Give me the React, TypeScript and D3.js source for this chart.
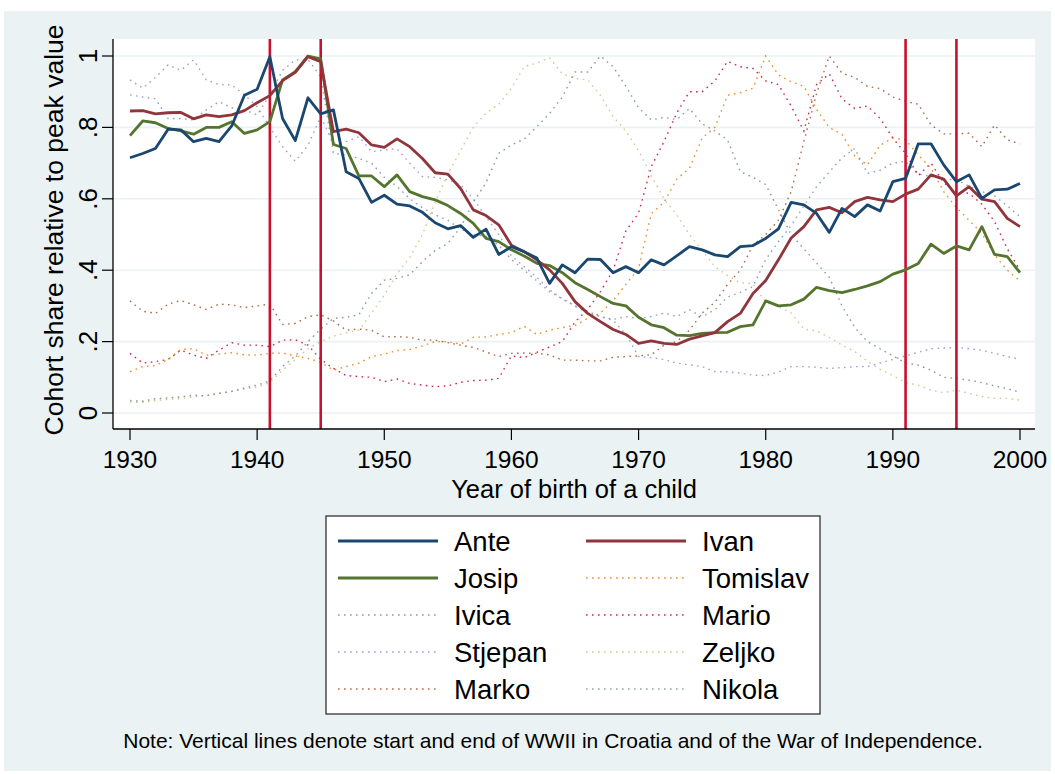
import React from "react";
import * as d3 from "d3";

const years = d3.range(1930, 2001);
const xTicks = [1930, 1940, 1950, 1960, 1970, 1980, 1990, 2000];
const yTicks = [0, 0.2, 0.4, 0.6, 0.8, 1];
const yTickLabels = ["0", ".2", ".4", ".6", ".8", "1"];
const warYears = [1941, 1945, 1991, 1995];

const ante = [0.715,0.727,0.741,0.795,0.793,0.76,0.769,0.76,0.804,0.89,0.907,0.998,0.825,0.763,0.883,0.838,0.849,0.676,0.657,0.59,0.61,0.585,0.58,0.562,0.533,0.516,0.525,0.492,0.515,0.444,0.466,0.452,0.434,0.363,0.415,0.393,0.431,0.43,0.393,0.41,0.393,0.429,0.415,0.44,0.466,0.457,0.443,0.438,0.466,0.469,0.489,0.516,0.59,0.583,0.559,0.506,0.573,0.55,0.583,0.566,0.648,0.657,0.754,0.754,0.695,0.648,0.667,0.601,0.625,0.627,0.643];
const ivan = [0.846,0.847,0.838,0.841,0.842,0.824,0.835,0.83,0.835,0.847,0.869,0.889,0.931,0.954,0.998,0.984,0.788,0.795,0.785,0.751,0.744,0.768,0.746,0.713,0.673,0.669,0.629,0.569,0.553,0.527,0.47,0.452,0.429,0.401,0.363,0.312,0.279,0.256,0.234,0.22,0.195,0.202,0.195,0.192,0.207,0.216,0.225,0.256,0.279,0.335,0.371,0.429,0.49,0.522,0.569,0.576,0.561,0.592,0.604,0.597,0.592,0.613,0.627,0.667,0.655,0.608,0.634,0.599,0.592,0.545,0.522];
const josip = [0.777,0.818,0.813,0.797,0.79,0.781,0.8,0.8,0.816,0.783,0.793,0.816,0.933,0.956,1.0,0.992,0.752,0.741,0.664,0.664,0.634,0.667,0.62,0.606,0.597,0.581,0.559,0.531,0.489,0.48,0.457,0.44,0.419,0.413,0.393,0.365,0.346,0.326,0.307,0.3,0.268,0.247,0.239,0.218,0.217,0.223,0.225,0.226,0.242,0.247,0.314,0.3,0.303,0.319,0.352,0.343,0.337,0.346,0.356,0.368,0.389,0.401,0.419,0.473,0.447,0.468,0.457,0.522,0.444,0.438,0.393];
const tomislav = [0.116,0.13,0.133,0.15,0.178,0.18,0.162,0.165,0.169,0.163,0.162,0.167,0.168,0.16,0.153,0.142,0.12,0.13,0.14,0.158,0.165,0.175,0.178,0.188,0.2,0.2,0.193,0.212,0.213,0.22,0.225,0.243,0.22,0.232,0.239,0.245,0.265,0.28,0.315,0.36,0.405,0.558,0.59,0.655,0.685,0.77,0.8,0.89,0.897,0.91,1.0,0.947,0.928,0.915,0.85,0.8,0.78,0.72,0.695,0.75,0.77,0.765,0.723,0.685,0.62,0.575,0.54,0.503,0.443,0.4,0.37];
const ivica = [0.035,0.033,0.04,0.042,0.045,0.05,0.048,0.055,0.06,0.07,0.078,0.09,0.13,0.16,0.2,0.235,0.265,0.268,0.275,0.335,0.372,0.377,0.387,0.424,0.455,0.475,0.52,0.59,0.645,0.727,0.751,0.767,0.802,0.839,0.885,0.955,0.955,1.0,0.97,0.915,0.855,0.821,0.828,0.822,0.853,0.81,0.79,0.765,0.676,0.66,0.64,0.57,0.5,0.46,0.42,0.38,0.3,0.24,0.2,0.18,0.16,0.14,0.134,0.12,0.1,0.097,0.092,0.085,0.076,0.068,0.058];
const mario = [0.167,0.14,0.144,0.15,0.176,0.162,0.153,0.176,0.197,0.19,0.19,0.186,0.204,0.205,0.19,0.15,0.125,0.105,0.102,0.1,0.088,0.095,0.083,0.078,0.074,0.076,0.086,0.091,0.092,0.097,0.16,0.155,0.17,0.185,0.2,0.255,0.29,0.34,0.4,0.51,0.56,0.69,0.76,0.84,0.9,0.9,0.93,0.985,0.97,0.965,0.93,0.92,0.86,0.79,0.92,0.95,0.88,0.853,0.86,0.825,0.77,0.727,0.665,0.7,0.645,0.62,0.615,0.585,0.536,0.46,0.4];
const stjepan = [0.933,0.91,0.94,0.975,0.96,0.989,0.933,0.92,0.919,0.891,0.858,0.8,0.746,0.705,0.75,0.83,0.755,0.76,0.774,0.732,0.737,0.74,0.7,0.662,0.66,0.653,0.64,0.6,0.55,0.5,0.44,0.41,0.38,0.345,0.32,0.3,0.28,0.27,0.26,0.22,0.158,0.155,0.15,0.14,0.135,0.13,0.116,0.115,0.112,0.106,0.105,0.115,0.13,0.13,0.128,0.125,0.127,0.13,0.13,0.14,0.15,0.16,0.17,0.18,0.182,0.184,0.18,0.176,0.167,0.158,0.15];
const zeljko = [0.03,0.03,0.035,0.038,0.04,0.045,0.05,0.055,0.062,0.068,0.072,0.085,0.12,0.15,0.18,0.2,0.215,0.225,0.232,0.28,0.33,0.39,0.435,0.5,0.59,0.67,0.735,0.8,0.84,0.865,0.91,0.97,0.98,0.995,0.95,0.937,0.933,0.89,0.83,0.79,0.735,0.665,0.6,0.555,0.5,0.455,0.41,0.385,0.365,0.362,0.31,0.298,0.28,0.235,0.23,0.212,0.19,0.172,0.145,0.122,0.105,0.085,0.078,0.064,0.057,0.064,0.055,0.046,0.041,0.041,0.036];
const marko = [0.314,0.285,0.279,0.305,0.315,0.303,0.29,0.305,0.303,0.295,0.3,0.305,0.248,0.251,0.27,0.275,0.258,0.232,0.235,0.232,0.213,0.214,0.212,0.204,0.204,0.197,0.19,0.184,0.171,0.158,0.167,0.168,0.167,0.163,0.148,0.148,0.146,0.146,0.156,0.158,0.16,0.163,0.19,0.2,0.232,0.28,0.31,0.36,0.4,0.47,0.5,0.54,0.62,0.76,0.895,1.0,0.952,0.94,0.915,0.909,0.885,0.873,0.865,0.807,0.782,0.782,0.784,0.746,0.807,0.765,0.754];
const nikola = [0.891,0.885,0.88,0.825,0.825,0.821,0.849,0.872,0.855,0.849,0.835,0.891,0.96,0.989,0.99,0.942,0.727,0.723,0.713,0.7,0.66,0.635,0.6,0.575,0.555,0.54,0.515,0.5,0.495,0.47,0.43,0.4,0.37,0.34,0.32,0.3,0.285,0.27,0.262,0.27,0.265,0.27,0.28,0.27,0.289,0.27,0.289,0.325,0.338,0.354,0.43,0.48,0.525,0.58,0.634,0.675,0.715,0.741,0.671,0.68,0.7,0.705,0.67,0.662,0.655,0.653,0.635,0.62,0.608,0.58,0.55];

const seriesNames = ["Ante","Ivan","Josip","Tomislav","Ivica","Mario","Stjepan","Zeljko","Marko","Nikola"];
const seriesValues = [ante, ivan, josip, tomislav, ivica, mario, stjepan, zeljko, marko, nikola];
const seriesColors = ["#1A476F","#90353B","#55752F","#E37E00","#6E8E84","#C10534","#938DD2","#CAC27E","#A0522D","#7B92A8"];
const seriesSolid = [true, true, true, false, false, false, false, false, false, false];

const W = 1055, H = 774;
const plot = { left: 113, right: 1035, top: 39, bottom: 429 };
const FONT = "'Liberation Sans', Arial, Helvetica, sans-serif";

export default function App() {
  const x = d3.scaleLinear().domain([1930, 2000]).range([130, 1020]);
  const y = d3.scaleLinear().domain([0, 1]).range([413, 56]);
  const line = d3.line<number>().x((_, i) => x(years[i])).y((d) => y(d));

  const order = [9, 8, 7, 6, 5, 4, 3, 2, 1, 0];

  return (
    <svg width={W} height={H} style={{ position: "absolute", left: 0, top: 0, background: "#fff" }} fontFamily={FONT}>
      <rect x={4} y={11} width={1047} height={760} fill="#EAF2F3" />
      <rect x={plot.left} y={plot.top} width={plot.right - plot.left} height={plot.bottom - plot.top} fill="#fff" />
      {yTicks.map((t) => (
        <line key={"g" + t} x1={plot.left} x2={plot.right} y1={y(t)} y2={y(t)} stroke="#EAF2F3" strokeWidth={1.6} />
      ))}
      {order.map((i) =>
        seriesSolid[i] ? null : (
          <path key={seriesNames[i]} d={line(seriesValues[i]) || ""} fill="none" stroke={seriesColors[i]}
            strokeWidth={1.4} strokeDasharray="1.6 4.4" opacity={0.85} />
        )
      )}
      {warYears.map((yr) => (
        <line key={"w" + yr} x1={x(yr)} x2={x(yr)} y1={plot.top} y2={plot.bottom} stroke="#C8102E" strokeWidth={2.6} />
      ))}
      {order.map((i) =>
        seriesSolid[i] ? (
          <path key={seriesNames[i]} d={line(seriesValues[i]) || ""} fill="none" stroke={seriesColors[i]}
            strokeWidth={2.8} strokeLinejoin="round" />
        ) : null
      )}
      <line x1={plot.left} x2={plot.left} y1={plot.top} y2={plot.bottom} stroke="#000" strokeWidth={1.3} />
      <line x1={plot.left} x2={plot.right} y1={plot.bottom} y2={plot.bottom} stroke="#000" strokeWidth={1.3} />
      {yTicks.map((t, i) => (
        <g key={"yt" + t}>
          <line x1={102} x2={plot.left} y1={y(t)} y2={y(t)} stroke="#000" strokeWidth={1.2} />
          <text transform={`translate(97,${y(t)}) rotate(-90)`} textAnchor="middle" fontSize={26} fill="#000">
            {yTickLabels[i]}
          </text>
        </g>
      ))}
      <text transform={`translate(63,${(plot.top + plot.bottom) / 2 - 4}) rotate(-90)`} textAnchor="middle" fontSize={26.5} fill="#000">
        Cohort share relative to peak value
      </text>
      {xTicks.map((t) => (
        <g key={"xt" + t}>
          <line x1={x(t)} x2={x(t)} y1={plot.bottom} y2={plot.bottom + 11} stroke="#000" strokeWidth={1.2} />
          <text x={x(t)} y={468} textAnchor="middle" fontSize={24.5} fill="#000">{t}</text>
        </g>
      ))}
      <text x={574} y={498} textAnchor="middle" fontSize={25.5} fill="#000">
        Year of birth of a child
      </text>
      <rect x={326} y={516} width={494} height={198} fill="#fff" stroke="#222" strokeWidth={1.2} />
      {seriesNames.map((name, i) => {
        const col = i % 2;
        const row = Math.floor(i / 2);
        const ly = 541 + row * 37;
        const lx = col === 0 ? 338 : 586;
        return (
          <g key={"lg" + name}>
            <line x1={lx} x2={lx + 100} y1={ly} y2={ly} stroke={seriesColors[i]}
              strokeWidth={seriesSolid[i] ? 2.8 : 1.4}
              strokeDasharray={seriesSolid[i] ? undefined : "1.6 4.4"} opacity={seriesSolid[i] ? 1 : 0.85} />
            <text x={lx + 116} y={ly + 10} fontSize={27.5} fill="#000">{name}</text>
          </g>
        );
      })}
      <text x={553} y={748} textAnchor="middle" fontSize={21} fill="#000">
        Note: Vertical lines denote start and end of WWII in Croatia and of the War of Independence.
      </text>
    </svg>
  );
}
